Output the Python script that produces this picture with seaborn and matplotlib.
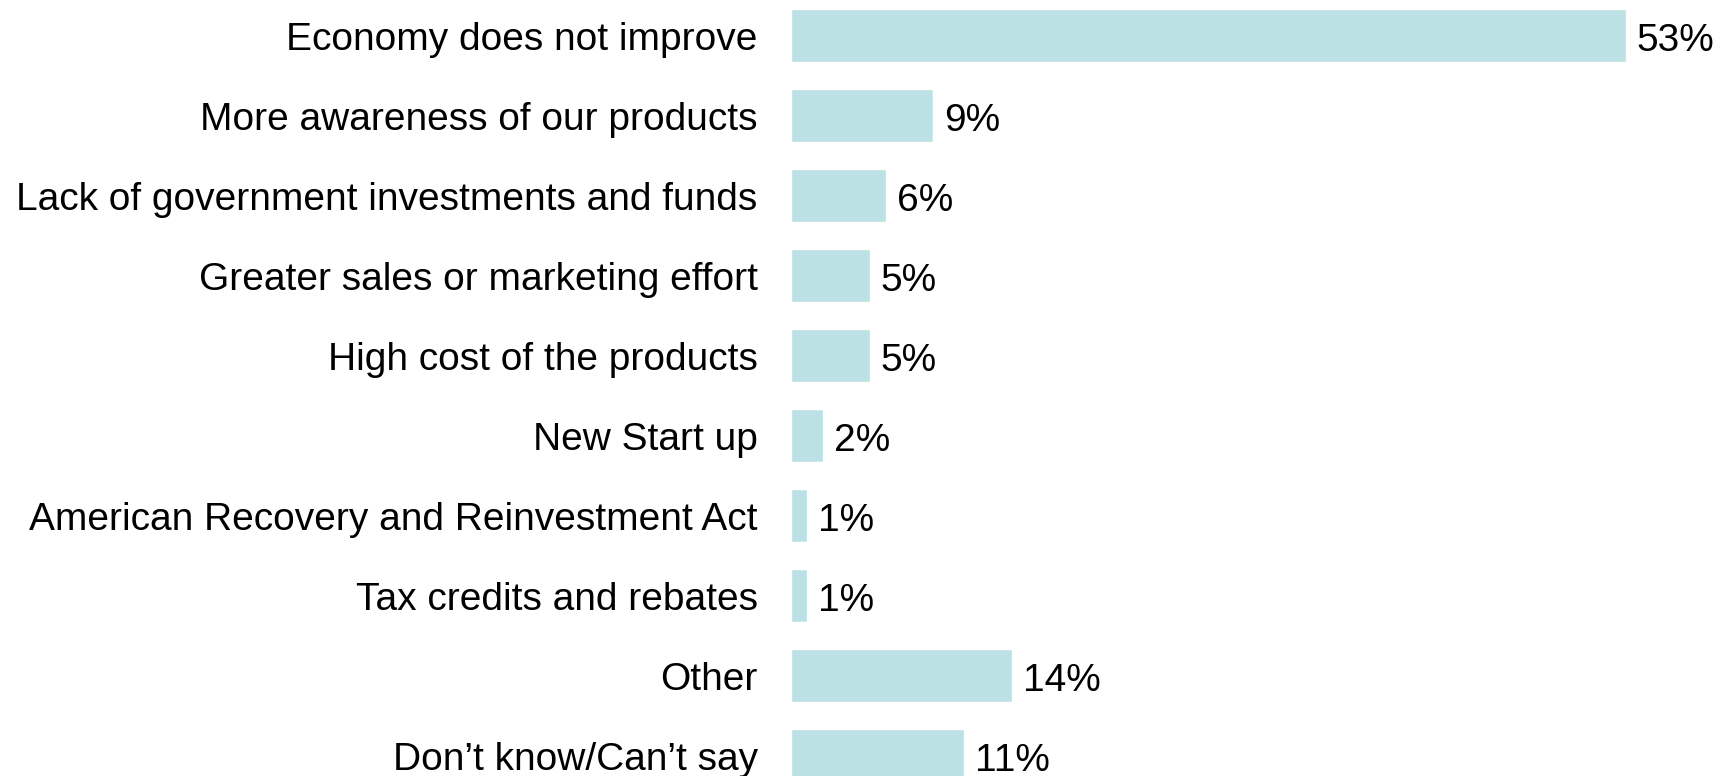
import matplotlib
matplotlib.use("Agg")
import matplotlib.pyplot as plt
import seaborn as sns
import pandas as pd

categories = [
    "Economy does not improve",
    "More awareness of our products",
    "Lack of government investments and funds",
    "Greater sales or marketing effort",
    "High cost of the products",
    "New Start up",
    "American Recovery and Reinvestment Act",
    "Tax credits and rebates",
    "Other",
    "Don\u2019t know/Can\u2019t say",
]
values = [53, 9, 6, 5, 5, 2, 1, 1, 14, 11]
value_labels = ["53%", "9%", "6%", "5%", "5%", "2%", "1%", "1%", "14%", "11%"]

sns.set_theme(style="white")
plt.rcParams["font.family"] = ["Liberation Sans", "DejaVu Sans"]

df = pd.DataFrame({"category": categories, "value": values})

fig = plt.figure(figsize=(17.27, 7.76), dpi=100)
ax = fig.add_axes([791 / 1727, 0.0, 1 - 791 / 1727, 1.0])

sns.barplot(data=df, x="value", y="category", order=categories,
            color="#BCE1E4", saturation=1, width=0.66, ax=ax)

for patch, lab in zip(ax.patches, value_labels):
    ax.annotate(lab, (patch.get_width(), patch.get_y() + patch.get_height() / 2),
                xytext=(8, -1), textcoords="offset points",
                ha="left", va="center_baseline", fontsize=28, color="black")

ax.set_xlim(0, (1727 - 791) / 15.75)
ax.set_ylim(9.256, -0.444)
ax.set_xlabel("")
ax.set_ylabel("")
ax.set_xticks([])
ax.tick_params(axis="y", length=0, pad=24, labelsize=28, labelcolor="black")
for s in ax.spines.values():
    s.set_visible(False)

fig.savefig("out.png", dpi=100)
